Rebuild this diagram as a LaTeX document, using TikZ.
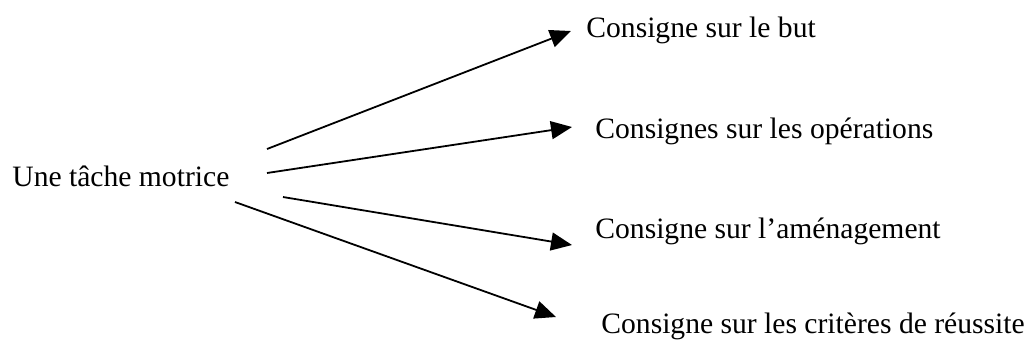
\documentclass[tikz,border=0pt]{standalone}
\usepackage{fontspec}
\setmainfont{Liberation Serif}
\usetikzlibrary{arrows.meta}

\tikzset{
    fleche/.style={-{Triangle[length=10.5pt,width=9pt]},line width=0.9pt},
    texte/.style={anchor=base west,inner sep=0pt,font=\fontsize{14.8}{17}\selectfont}
}

\begin{document}
\begin{tikzpicture}[x=0.5pt,y=-0.5pt]
    \useasboundingbox (0,0) rectangle (1026,344);
    \node [texte] (tache) at (12,186) {Une tâche motrice};
    \node [texte] (but) at (586,37) {Consigne sur le but};
    \node [texte] (operations) at (595,138) {Consignes sur les opérations};
    \node [texte] (amenagement) at (595,238) {Consigne sur l’aménagement};
    \node [texte] (criteres) at (601,333) {Consigne sur les critères de réussite};
    \coordinate (D1) at (267,149);
    \coordinate (D2) at (267,173);
    \coordinate (D3) at (283,197);
    \coordinate (D4) at (235,202);
    \coordinate (F1) at (571,31);
    \coordinate (F2) at (572,127);
    \coordinate (F3) at (572,245);
    \coordinate (F4) at (556,317);
    \draw [fleche] (D1) -- (F1);
    \draw [fleche] (D2) -- (F2);
    \draw [fleche] (D3) -- (F3);
    \draw [fleche] (D4) -- (F4);
\end{tikzpicture}
\end{document}
